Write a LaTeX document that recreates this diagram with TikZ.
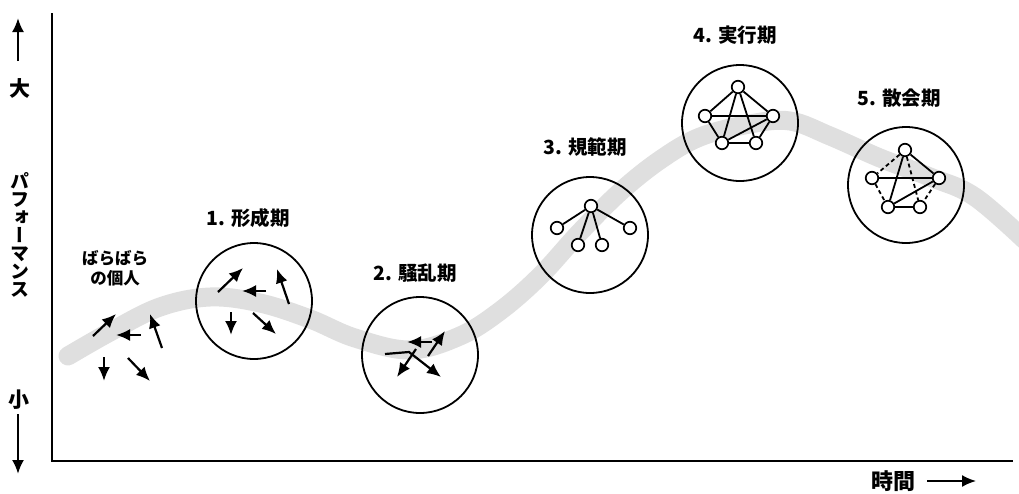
\documentclass[tikz,border=0pt]{standalone}
\usepackage{fontspec}
\setmainfont{Noto Sans CJK JP}
\newfontfamily\vfont[RawFeature=+vert]{Noto Sans CJK JP}
\usetikzlibrary{arrows.meta}
\tikzset{
  band/.style={line width=19pt, draw=gray!25, line cap=round, line join=round},
  stagecirc/.style={draw, line width=1.8pt, circle, minimum size=116pt, inner sep=0pt},
  arr/.style={line width=2.2pt, -{Latex[length=14pt,width=12pt]}},
  vtx/.style={draw, circle, fill=white, line width=1.7pt, minimum size=12.5pt, inner sep=0pt},
  edge/.style={line width=1.8pt},
  dedge/.style={line width=1.8pt, dash pattern=on 4pt off 3pt},
  lbl/.style={font=\bfseries\fontsize{19.5}{20}\selectfont},
  indlbl/.style={font=\bfseries\fontsize{16.5}{20}\selectfont},
  axlbl/.style={font=\bfseries\fontsize{21}{22}\selectfont},
  vchar/.style={font=\bfseries\vfont\fontsize{19}{19}\selectfont, inner sep=0pt, text height=14pt, text depth=2pt},
  axis/.style={line width=1.6pt}
}
\begin{document}
\begin{tikzpicture}[x=1pt,y=-1pt]
\useasboundingbox (0,0) rectangle (1019,493);
% performance band
\draw[band] plot[smooth, tension=0.6] coordinates {(68,356) (110,332) (160,307) (210,297) (260,303) (310,319) (355,338) (410,350) (460,336) (500,311) (540,276) (580,232) (620,192) (660,160) (700,137) (750,124) (790,121) (830,136) (880,158) (930,177) (975,197) (1030,245)};
% axes
\coordinate (ytop) at (52,13);
\coordinate (orig) at (52,461);
\coordinate (xend) at (1013,461);
\draw[axis] (ytop) -- (orig) -- (xend);
% left labels
\coordinate (ua1) at (18,61); \coordinate (ua2) at (18,18);
\draw[arr] (ua1) -- (ua2);
\node[axlbl] (big) at (20,88) {大};
\node[vchar] (v1) at (20,182) {パ};
\node[vchar] (v2) at (20,200) {フ};
\node[vchar] (v3) at (20,218) {ォ};
\node[vchar] (v4) at (20,236) {ー};
\node[vchar] (v5) at (20,254) {マ};
\node[vchar] (v6) at (20,272) {ン};
\node[vchar] (v7) at (20,290) {ス};
\node[axlbl] (small) at (19,400) {小};
\coordinate (da1) at (18,414); \coordinate (da2) at (18,474);
\draw[arr] (da1) -- (da2);
% bottom label
\node[axlbl, font=\bfseries\fontsize{22}{22}\selectfont] (time) at (893,481) {時間};
\coordinate (ta1) at (927,481); \coordinate (ta2) at (976,481);
\draw[line width=1.8pt, -{Latex[length=14pt,width=12pt]}] (ta1) -- (ta2);
% individuals
\node[indlbl, align=center] (indiv) at (115,268) {ばらばら\\の個人};
\coordinate (p1a) at (93,336); \coordinate (p1b) at (116,314);
\coordinate (p2a) at (141,335); \coordinate (p2b) at (116,335);
\coordinate (p3a) at (162,348); \coordinate (p3b) at (150,314);
\coordinate (p4a) at (104,357); \coordinate (p4b) at (104,381);
\coordinate (p5a) at (128,358); \coordinate (p5b) at (150,381);
\draw[arr] (p1a) -- (p1b);
\draw[arr] (p2a) -- (p2b);
\draw[arr] (p3a) -- (p3b);
\draw[arr] (p4a) -- (p4b);
\draw[arr] (p5a) -- (p5b);
% 1. forming
\node[lbl] (l1) at (248,218) {1. 形成期};
\node[stagecirc] (c1) at (254,301) {};
\coordinate (f1a) at (218,292); \coordinate (f1b) at (243,268);
\coordinate (f2a) at (266,291); \coordinate (f2b) at (242,291);
\coordinate (f3a) at (289,304); \coordinate (f3b) at (277,269);
\coordinate (f4a) at (231,312); \coordinate (f4b) at (231,335);
\coordinate (f5a) at (253,313); \coordinate (f5b) at (276,334);
\draw[arr] (f1a) -- (f1b);
\draw[arr] (f2a) -- (f2b);
\draw[arr] (f3a) -- (f3b);
\draw[arr] (f4a) -- (f4b);
\draw[arr] (f5a) -- (f5b);
% 2. storming
\node[lbl] (l2) at (415,273) {2. 騒乱期};
\node[stagecirc] (c2) at (420,355) {};
\coordinate (s1a) at (432,342); \coordinate (s1b) at (407,342);
\coordinate (s2a) at (428,356); \coordinate (s2b) at (445,331);
\coordinate (s3a) at (385,354); \coordinate (s3m) at (409,352); \coordinate (s3b) at (441,377);
\coordinate (s4a) at (416,349); \coordinate (s4b) at (397,377);
\draw[arr] (s1a) -- (s1b);
\draw[arr] (s2a) -- (s2b);
\draw[arr] (s3a) -- (s3m) -- (s3b);
\draw[arr] (s4a) -- (s4b);
% 3. norming
\node[lbl] (l3) at (585,147) {3. 規範期};
\node[stagecirc] (c3) at (590,235) {};
\node[vtx] (n3t) at (591,206) {};
\node[vtx] (n3l) at (557,228) {};
\node[vtx] (n3r) at (630,228) {};
\node[vtx] (n3bl) at (578,245) {};
\node[vtx] (n3br) at (602,245) {};
\draw[edge] (n3t) -- (n3l);
\draw[edge] (n3t) -- (n3r);
\draw[edge] (n3t) -- (n3bl);
\draw[edge] (n3t) -- (n3br);
% 4. performing
\node[lbl] (l4) at (735,35) {4. 実行期};
\node[stagecirc] (c4) at (740,123) {};
\node[vtx] (n4t) at (738,87) {};
\node[vtx] (n4l) at (705,116) {};
\node[vtx] (n4r) at (773,116) {};
\node[vtx] (n4bl) at (722,143) {};
\node[vtx] (n4br) at (756,143) {};
\draw[edge] (n4t) -- (n4l);
\draw[edge] (n4t) -- (n4r);
\draw[edge] (n4l) -- (n4r);
\draw[edge] (n4l) -- (n4bl);
\draw[edge] (n4r) -- (n4br);
\draw[edge] (n4bl) -- (n4br);
\draw[edge] (n4t) -- (n4bl);
\draw[edge] (n4t) -- (n4br);
\draw[edge] (n4bl) -- (n4r);
% 5. adjourning
\node[lbl] (l5) at (899,98) {5. 散会期};
\node[stagecirc] (c5) at (906,185) {};
\node[vtx] (n5t) at (905,150) {};
\node[vtx] (n5l) at (872,178) {};
\node[vtx] (n5r) at (939,178) {};
\node[vtx] (n5bl) at (888,207) {};
\node[vtx] (n5br) at (920,207) {};
\draw[dedge] (n5t) -- (n5l);
\draw[edge] (n5t) -- (n5r);
\draw[edge] (n5l) -- (n5r);
\draw[dedge] (n5l) -- (n5bl);
\draw[dedge] (n5r) -- (n5br);
\draw[edge] (n5bl) -- (n5br);
\draw[edge] (n5t) -- (n5bl);
\draw[dedge] (n5t) -- (n5br);
\draw[edge] (n5bl) -- (n5r);
\end{tikzpicture}
\end{document}
